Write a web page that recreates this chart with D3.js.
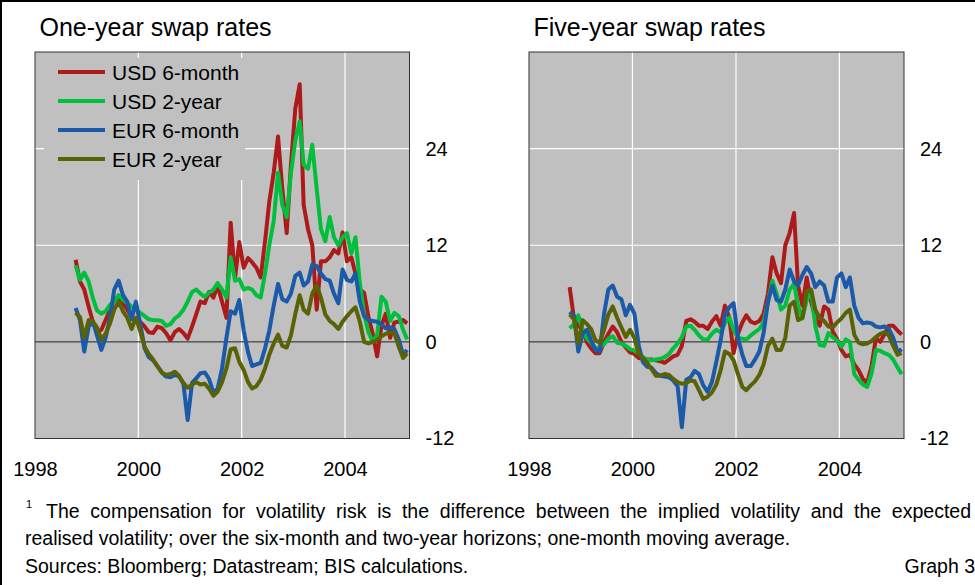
<!DOCTYPE html>
<html>
<head>
<meta charset="utf-8">
<script src="https://cdn.jsdelivr.net/npm/d3@7"></script>
<style>
  body { margin: 0; background: #fff; }
  svg { display: block; font-family: "Liberation Sans", Arial, sans-serif; }
</style>
</head>
<body>
<svg id="chart" width="975" height="585"></svg>
<script>
// monthly readings (mid-month), Oct 1998 .. Mar 2005
const firstMonth = new Date(1998, 9, 15);
const monthCount = 78;

const seriesNames = ["USD 6-month", "USD 2-year", "EUR 6-month", "EUR 2-year"];
const seriesColors = ["#ad1a1a", "#00bf3c", "#1a5aa8", "#596205"];

// one-year swap rates
const oneYrUsd6m = [10.2, 7.5, 6.5, 4.4, 2.4, 1.2, 1.5, 2.7, 4, 5.2,
  5.6, 4.8, 4, 3.1, 2.5, 2.5, 1.9, 1.2, 1.1, 1.9,
  1.7, 1.1, 0.2, 1.2, 1.6, 1.1, 0.4, 1.9, 3.5, 5,
  4.8, 6.2, 5.5, 7, 5, 3, 14.8, 8, 12.4, 9.2,
  10.4, 9.9, 9.2, 8, 12.5, 17.4, 21, 25.5, 19, 13.5,
  22, 29, 32, 17, 14, 12, 4, 10, 10, 10.5,
  11.4, 11, 13.6, 10, 10.5, 8.5, 6.5, 6.1, 3.1, 1,
  -1.8, 2, 3.5, 0.5, 2.4, 2.5, 2.7, 2.3];
const oneYrUsd2y = [9.5, 7.7, 8.6, 7.5, 5.4, 3.9, 3.5, 3.8, 4.6, 5,
  5.8, 5.2, 4.8, 4.4, 4, 3.6, 3.2, 2.8, 2.7, 2.7,
  2.6, 2, 2.2, 2.9, 3.3, 4, 5, 6.2, 6.5, 6,
  5.6, 6.1, 6.5, 7.3, 6.5, 5.5, 10.5, 7.6, 7.8, 6.5,
  6.7, 6.5, 5.8, 5.5, 8.5, 12, 15, 21, 17, 15.5,
  21, 25, 27.4, 22, 21.5, 24.5, 19, 14, 12.5, 15.5,
  13, 12, 13, 13.5, 11, 13, 7.3, 3.5, 1.2, 0,
  0.8, 5.6, 5, 2.6, 3.6, 3.2, 1.5, 0.3];
const oneYrEur6m = [4.2, 2.7, -1.2, 1.9, 2.5, 0.8, -1, 0.5, 3, 6.5,
  7.6, 5.8, 5, 2.8, 5, 2.2, -0.8, -1.9, -2.3, -3,
  -3.8, -4.3, -4.4, -4.1, -4.3, -5.2, -9.7, -5.1, -4.5, -3.9,
  -3.8, -4.6, -6.3, -5.8, -3.3, 0.5, 3.8, 3.5, 5.2, 1.4,
  -1.3, -3, -2.8, -2.6, -0.8, 1.4, 4.5, 7.2, 5.3, 5,
  6, 8.2, 8.6, 7, 7.5, 9.6, 9.4, 8.5, 7.8, 7.6,
  6, 4.8, 9, 7.7, 7.5, 8.5, 5, 3.2, 2.7, 2.6,
  2.5, 2.2, 1.7, 1.8, 1.6, 0.3, -1.6, -1];
const oneYrEur2y = [3.6, 3.1, 0.5, 2.7, 2.5, 1.8, 0.3, 1, 2.3, 4,
  5, 3.8, 3, 1.6, 3, 1.3, -0.6, -1.5, -2.2, -3,
  -3.8, -4.1, -4, -3.7, -4.2, -5.1, -5.7, -5.3, -5, -5.3,
  -5.2, -5.8, -6.7, -6.2, -5, -3.3, -0.9, -0.8, -2.5, -3.5,
  -5, -5.8, -5.5, -4.7, -3.3, -1.6, -0.2, 0.9, -0.5, -0.7,
  0.8, 3.5, 5.8, 4, 3.5, 6, 7, 5.5, 3.4, 2.6,
  2.2, 1.6, 2.5, 3.2, 3.8, 4.3, 2.5, 0, -0.2, 0,
  0.2, 0.7, 1, 1.2, 1.1, -0.6, -2, -1.4];

// five-year swap rates
const fiveYrUsd6m = [6.8, 2.8, 2, 1.5, -0.1, -0.8, -1.4, -1.4, 0, 1,
  1.9, 1.2, 0, -0.7, -1.3, -1.5, -2, -2.1, -2.2, -2.2,
  -2.3, -2.4, -2.6, -2.2, -1.8, -1.6, -0.5, 2.6, 2.8, 2.5,
  2, 2, 1.6, 2.5, 3.2, 2, 4.5, 3, -1.4, 1,
  2.4, 3.3, 2.5, 2.3, 2.6, 3.5, 6, 10.5, 8.5, 7.3,
  12, 13.5, 16, 7, 4.5, 8, 5, 3, 2, 4.4,
  4, 1.3, 0.4, -1, -1.8, -1.6, -2.8, -3.5, -4.6, -5.1,
  -3, 0.5, 0, 1, 2, 2, 1.4, 0.9];
const fiveYrUsd2y = [1.7, 2.2, 3.3, 1.5, 0.4, -0.1, -0.8, -0.7, -0.3, 0.4,
  0.7, -0.1, -0.2, -0.5, -0.9, -1.1, -1.4, -1.9, -2.2, -2.3,
  -2.2, -2.1, -1.9, -1.5, -0.8, -0.2, 0.6, 1.9, 2, 1.5,
  0.8, 0.3, 0.3, 1, 1.5, 1.2, 2.3, 3, 1.5, 0.5,
  0.4, 0.3, 0.8, 1.2, 1.6, 2.4, 5, 7.6, 6, 4,
  4.5, 6.5, 7.2, 4.5, 2.9, 5.2, 6.3, 2, -0.4, -0.5,
  1.1, 0.6, 0.2, -0.6, 0.3, 0, -4, -4.7, -5.3, -5.6,
  -3.9, -1, -1.1, -1.4, -1.6, -2.2, -3.2, -4];
const fiveYrEur6m = [3.7, 3.2, -1.2, 1, 1.5, 0.2, -1, -1.2, 3.5, 6.5,
  7, 5.6, 5.3, 3.3, 4.6, 3.5, -0.5, -2.5, -3.1, -3.2,
  -3.9, -4.2, -4.3, -4.4, -4.8, -5.5, -10.6, -4.7, -4.4, -3.6,
  -4, -5.4, -6.2, -5, -2.5, 0.2, 3.4, 4.3, 4.8, 0.5,
  -1.6, -3, -3, -2.2, -1.2, 1.1, 5, 7, 5.2, 5,
  6.5, 9, 7.5, 7, 8.3, 9.3, 8.5, 6.8, 7.5, 7,
  5, 5, 8, 8.5, 6.8, 8, 4.5, 3, 2.3, 2.4,
  2.3, 1.9, 1.8, 1.9, 1.6, 0.5, -1.3, -0.9];
const fiveYrEur2y = [3.4, 2.8, -0.2, 2.7, 2.2, 1.6, 0.2, -0.1, 1.5, 3.4,
  4.4, 3, 1.8, 0.6, 1.5, 0.5, -1.5, -2, -2.6, -3.4,
  -4.2, -4.2, -4, -4.1, -4.6, -5, -5.2, -5.1, -4.8, -4.9,
  -6, -7.1, -6.8, -6.3, -5.3, -3.5, -1.2, -1.5, -2.3, -4,
  -5.6, -6, -5.4, -4.9, -4.1, -2.8, -0.5, 0.4, -1, -1,
  0.5, 4.5, 5, 2.7, 3, 6.3, 6.5, 4, 3, 2.6,
  1.9, 1.8, 2.4, 2.9, 3.6, 4, 0.9, -0.1, -0.3, -0.2,
  0.1, 0.6, 1, 1.2, 0.8, -0.5, -1.6, -1.4];

const yTicks = [-12, 0, 12, 24];
const yGrid = [12, 24];
const yearTicks = [1998, 2000, 2002, 2004];
const yearGrid = [2000, 2002, 2004];

const footnoteLines = [
  "The compensation for volatility risk is the difference between the implied volatility and the expected",
  "realised volatility; over the six-month and two-year horizons; one-month moving average.",
  "Sources: Bloomberg; Datastream; BIS calculations."
];

const months = d3.range(monthCount).map(i => d3.timeMonth.offset(firstMonth, i));

const svg = d3.select("#chart");
const plotTop = 52, plotBottom = 438.5;

const y = d3.scaleLinear().domain([-12, 36]).range([plotBottom, plotTop]);

const panels = [
  { title: "One-year swap rates", left: 35, right: 409.5, legend: true,
    series: [oneYrUsd6m, oneYrUsd2y, oneYrEur6m, oneYrEur2y] },
  { title: "Five-year swap rates", left: 529, right: 904, legend: false,
    series: [fiveYrUsd6m, fiveYrUsd2y, fiveYrEur6m, fiveYrEur2y] }
];

function drawPanel(p) {
  const x = d3.scaleTime()
    .domain([new Date(1998, 0, 1), new Date(2005, 3, 1)])
    .range([p.left, p.right]);

  const g = svg.append("g");

  g.append("text")
    .attr("x", p.left + 4.5)
    .attr("y", 36)
    .attr("font-size", 25)
    .text(p.title);

  g.append("rect")
    .attr("x", p.left)
    .attr("y", plotTop)
    .attr("width", p.right - p.left)
    .attr("height", plotBottom - plotTop)
    .attr("fill", "#c0c0c0");

  // white grid
  g.selectAll(".vgrid")
    .data(yearGrid)
    .join("line")
    .attr("x1", d => x(new Date(d, 0, 1)))
    .attr("x2", d => x(new Date(d, 0, 1)))
    .attr("y1", plotTop)
    .attr("y2", plotBottom)
    .attr("stroke", "#fff")
    .attr("stroke-width", 1.2);

  g.selectAll(".hgrid")
    .data(yGrid)
    .join("line")
    .attr("x1", p.left)
    .attr("x2", p.right)
    .attr("y1", d => y(d))
    .attr("y2", d => y(d))
    .attr("stroke", "#fff")
    .attr("stroke-width", 1.2);

  g.append("line")
    .attr("x1", p.left)
    .attr("x2", p.right)
    .attr("y1", y(0))
    .attr("y2", y(0))
    .attr("stroke", "#222")
    .attr("stroke-width", 1);

  if (p.legend) {
    g.append("rect")
      .attr("x", 44)
      .attr("y", 58)
      .attr("width", 201)
      .attr("height", 122)
      .attr("fill", "#c0c0c0");

    const items = g.selectAll(".leg")
      .data(seriesNames)
      .join("g")
      .attr("transform", (d, i) => "translate(58," + (72 + i * 29) + ")");
    items.append("line")
      .attr("x1", 0)
      .attr("x2", 47)
      .attr("stroke", (d, i) => seriesColors[i])
      .attr("stroke-width", 4);
    items.append("text")
      .attr("x", 54)
      .attr("y", 7.5)
      .attr("font-size", 21)
      .text(d => d);
  }

  const line = d3.line()
    .x((d, i) => x(months[i]))
    .y(d => y(d));

  g.selectAll(".series")
    .data(p.series)
    .join("path")
    .attr("d", line)
    .attr("fill", "none")
    .attr("stroke", (d, i) => seriesColors[i])
    .attr("stroke-width", 4)
    .attr("stroke-linejoin", "round");

  g.append("rect")
    .attr("x", p.left)
    .attr("y", plotTop)
    .attr("width", p.right - p.left)
    .attr("height", plotBottom - plotTop)
    .attr("fill", "none")
    .attr("stroke", "#333")
    .attr("stroke-width", 1);

  // y labels on the right, no tick marks, plain hyphen minus
  g.append("g")
    .attr("transform", "translate(" + p.right + ",0)")
    .call(d3.axisRight(y).tickValues(yTicks).tickFormat(d => String(d)).tickSize(0).tickPadding(16))
    .call(a => a.select(".domain").remove())
    .attr("font-size", 20)
    .attr("font-family", null);

  g.append("g")
    .attr("transform", "translate(0," + plotBottom + ")")
    .call(d3.axisBottom(x)
      .tickValues(yearTicks.map(d => new Date(d, 0, 1)))
      .tickFormat(d3.timeFormat("%Y"))
      .tickSize(0)
      .tickPadding(23))
    .call(a => a.select(".domain").remove())
    .attr("font-size", 20)
    .attr("font-family", null);
}

panels.forEach(drawPanel);

// footnote
const note = svg.append("g").attr("font-size", 19.5).attr("fill", "#000");
note.append("text").attr("x", 26).attr("y", 508).attr("font-size", 11).text("1");

const l1 = note.append("text").attr("x", 46).attr("y", 518).text(footnoteLines[0]);
const w1 = l1.node().getComputedTextLength();
const gaps = footnoteLines[0].split(" ").length - 1;
l1.attr("word-spacing", (971 - 46 - w1) / gaps);

note.append("text").attr("x", 25).attr("y", 545).text(footnoteLines[1]);
note.append("text").attr("x", 25).attr("y", 573).text(footnoteLines[2]);
note.append("text").attr("x", 975).attr("y", 573).attr("text-anchor", "end").text("Graph 3");

// frame on top and left edge
svg.append("line").attr("x1", 0).attr("x2", 975).attr("y1", 1).attr("y2", 1)
  .attr("stroke", "#000").attr("stroke-width", 2);
svg.append("line").attr("x1", 1).attr("x2", 1).attr("y1", 0).attr("y2", 585)
  .attr("stroke", "#000").attr("stroke-width", 2);
</script>
</body>
</html>
